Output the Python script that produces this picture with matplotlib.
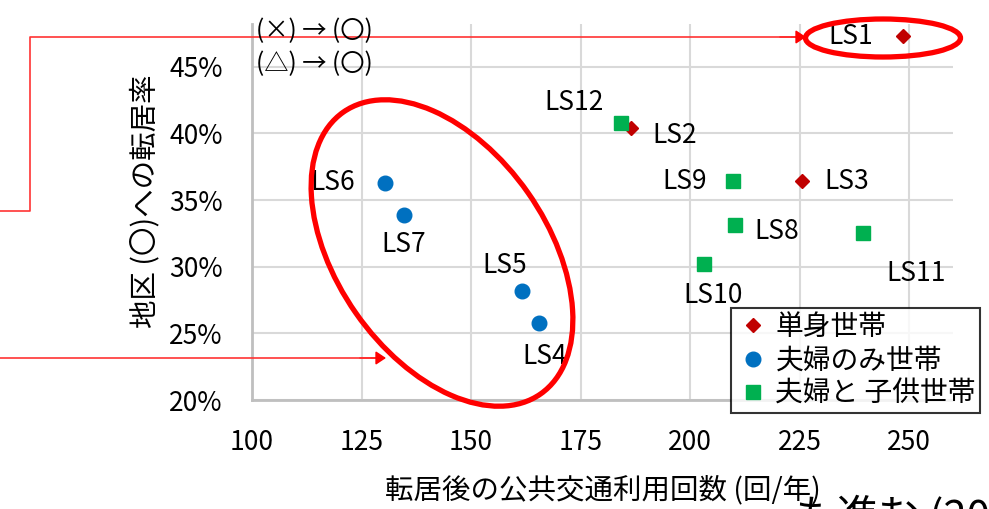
import matplotlib
matplotlib.use("Agg")
import matplotlib.pyplot as plt
from matplotlib.patches import Ellipse, FancyArrowPatch
from matplotlib.ticker import PercentFormatter

plt.rcParams['font.family'] = ['Noto Sans CJK JP', 'DejaVu Sans']

# 世帯タイプ別の各LS（転居後の公共交通利用回数, 転居率）
single_names = ['LS1', 'LS2', 'LS3']
single_x = [248.7, 186.5, 225.6]
single_y = [0.473, 0.404, 0.364]

couple_names = ['LS4', 'LS5', 'LS6', 'LS7']
couple_x = [165.6, 161.7, 130.3, 134.7]
couple_y = [0.258, 0.282, 0.363, 0.339]

family_names = ['LS8', 'LS9', 'LS10', 'LS11', 'LS12']
family_x = [210.3, 209.9, 203.2, 239.4, 184.2]
family_y = [0.331, 0.364, 0.302, 0.325, 0.408]

legend_labels = ['単身世帯', '夫婦のみ世帯', '夫婦と 子供世帯']
x_ticks = [100, 125, 150, 175, 200, 225, 250]
y_ticks = [0.20, 0.25, 0.30, 0.35, 0.40, 0.45]

# ラベルの位置（offset pixels）と揃え
label_pos = {
    'LS1': (-30, 0, 'right', 'center'),
    'LS2': (21, -7, 'left', 'center'),
    'LS3': (22, 0, 'left', 'center'),
    'LS4': (5, -34, 'center', 'center'),
    'LS5': (-18, 25, 'center', 'center'),
    'LS6': (-30, 0, 'right', 'center'),
    'LS7': (0, -30, 'center', 'center'),
    'LS8': (19, -6, 'left', 'center'),
    'LS9': (-27, 0, 'right', 'center'),
    'LS10': (9, -31, 'center', 'center'),
    'LS11': (24, -40, 'left', 'center'),
    'LS12': (-17, 20, 'right', 'center'),
}

fig = plt.figure(figsize=(9.89, 5.09), dpi=100)
ax = fig.add_axes([0.2548, 0.2141, 0.7088, 0.7387])

ax.plot(single_x, single_y, 'D', color='#c00000', markersize=7.5, label=legend_labels[0], zorder=3)
ax.plot(couple_x, couple_y, 'o', color='#0070c0', markersize=10.5, label=legend_labels[1], zorder=3)
ax.plot(family_x, family_y, 's', color='#00b050', markersize=9.5, label=legend_labels[2], zorder=3)

for names, xs, ys in [(single_names, single_x, single_y),
                      (couple_names, couple_x, couple_y),
                      (family_names, family_x, family_y)]:
    for n, x, y in zip(names, xs, ys):
        dx, dy, ha, va = label_pos[n]
        ax.annotate(n, (x, y), xytext=(dx, dy), textcoords='offset pixels',
                    ha=ha, va=va, fontsize=19, color='black', zorder=4)

ax.set_xlim(100, 260)
ax.set_ylim(0.20, 0.482)
ax.set_xticks(x_ticks)
ax.set_yticks(y_ticks)
ax.yaxis.set_major_formatter(PercentFormatter(1.0, decimals=0))
ax.tick_params(length=0, labelsize=19)
ax.tick_params(axis='y', pad=21)
ax.tick_params(axis='x', pad=21)
ax.grid(True, color='#d9d9d9', linewidth=1.5)
ax.set_axisbelow(True)
for s in ['top', 'right']:
    ax.spines[s].set_visible(False)
for s in ['left', 'bottom']:
    ax.spines[s].set_color('#bfbfbf')
    ax.spines[s].set_linewidth(2)

ax.set_xlabel('転居後の公共交通利用回数 (回/年)', fontsize=20.5)
ax.xaxis.set_label_coords(0.5, -0.2)
ax.set_ylabel('地区 (〇)への転居率', fontsize=20.5)
ax.yaxis.set_label_coords(-0.13, 0.53)

leg = ax.legend(loc='upper left', bbox_to_anchor=(731 / 989, 1 - 308 / 509),
                bbox_transform=fig.transFigure, fontsize=20, frameon=True,
                fancybox=False, edgecolor='black', borderpad=0.15,
                handletextpad=0.15, handlelength=1.3, labelspacing=0.12,
                borderaxespad=0)
leg.get_frame().set_linewidth(1.5)
leg.set_zorder(5)

# 上部の説明テキスト
fig.text(256 / 989, 1 - 31 / 509, '(×) → (〇)', fontsize=17.5, va='center', ha='left')
fig.text(256 / 989, 1 - 64 / 509, '(△) → (〇)', fontsize=17.5, va='center', ha='left')

# ピクセル座標で赤い囲みと矢印を描くオーバーレイ
ov = fig.add_axes([0, 0, 1, 1], facecolor='none')
ov.set_xlim(0, 989)
ov.set_ylim(509, 0)
ov.axis('off')

ov.add_patch(Ellipse((442, 253), 344, 210, angle=55, fill=False,
                     edgecolor='#ff0000', linewidth=3.8))
ov.add_patch(Ellipse((883, 38), 155, 38, fill=False,
                     edgecolor='#ff0000', linewidth=3.8))

ov.plot([0, 30, 30, 790], [211, 211, 37, 37], color='#ff3333', linewidth=1.2)
ov.add_patch(FancyArrowPatch((780, 37), (806, 37), arrowstyle='-|>,head_length=6,head_width=4',
                             color='#ff0000', linewidth=1.2, shrinkA=0, shrinkB=0))
ov.plot([0, 370], [358, 358], color='#ff3333', linewidth=1.2)
ov.add_patch(FancyArrowPatch((360, 358), (386, 358), arrowstyle='-|>,head_length=6,head_width=4',
                             color='#ff0000', linewidth=1.2, shrinkA=0, shrinkB=0))

# 下端で切れている見出し
fig.text(795 / 989, 1 - 496 / 509, 'も進む (20', fontsize=30, va='top', ha='left')

fig.savefig('out.png', dpi=100)
